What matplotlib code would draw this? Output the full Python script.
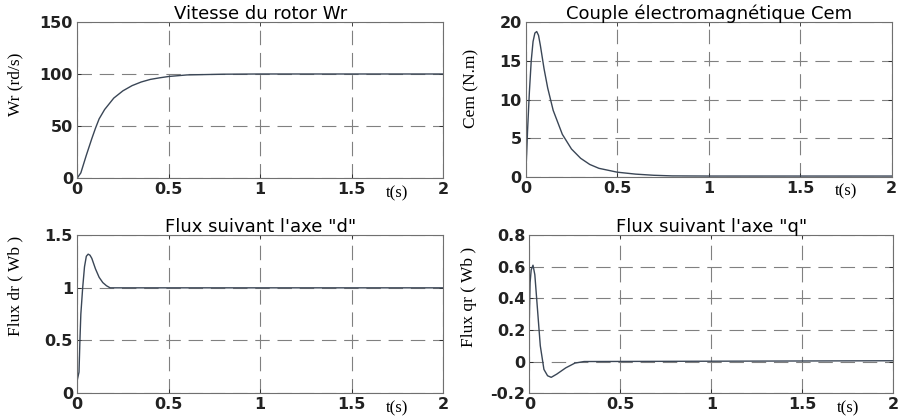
import matplotlib
matplotlib.use("Agg")
import matplotlib.pyplot as plt

# speed of rotor
t_wr = [0, 0.02, 0.05, 0.08, 0.1, 0.12, 0.15, 0.2, 0.25, 0.3, 0.35, 0.4, 0.45, 0.5, 0.6, 0.8, 1.0, 2.0]
wr = [0, 5, 22, 38, 48, 57, 66, 77, 84, 89, 92.5, 95, 96.5, 97.8, 99.3, 100, 100.2, 100.2]

# electromagnetic torque
t_cem = [0, 0.005, 0.01, 0.02, 0.03, 0.04, 0.05, 0.06, 0.07, 0.08, 0.1, 0.12, 0.15, 0.2, 0.25,
         0.3, 0.35, 0.4, 0.5, 0.6, 0.7, 0.8, 1.0, 2.0]
cem = [0, 3, 6, 11, 15, 17.5, 18.6, 18.8, 18.3, 17, 14, 11.5, 8.6, 5.5, 3.6,
       2.4, 1.6, 1.1, 0.6, 0.35, 0.2, 0.12, 0.1, 0.1]

# flux d
t_fd = [0, 0.01, 0.015, 0.02, 0.03, 0.04, 0.05, 0.06, 0.07, 0.08, 0.1, 0.12, 0.14, 0.16, 0.18, 2.0]
flux_d = [0.12, 0.2, 0.5, 0.75, 1.0, 1.2, 1.3, 1.32, 1.31, 1.28, 1.18, 1.1, 1.05, 1.02, 1.0, 1.0]

# flux q
t_fq = [0, 0.004, 0.01, 0.02, 0.03, 0.04, 0.05, 0.06, 0.08, 0.1, 0.12, 0.15, 0.2, 0.25, 0.3, 2.0]
flux_q = [0.28, 0.5, 0.58, 0.61, 0.55, 0.4, 0.25, 0.1, -0.05, -0.09, -0.1, -0.08, -0.04, -0.01, 0.0, 0.005]

x_ticks = [0, 0.5, 1, 1.5, 2]
x_labels = ["0", "0.5", "1", "1.5", "2"]

panels = [
    (t_wr, wr, "Vitesse du rotor Wr", "Wr (rd/s)", [0, 50, 100, 150], ["0", "50", "100", "150"],
     (0, 150), [0.085, 0.576, 0.403, 0.371], (-0.148, 0.6)),
    (t_cem, cem, "Couple électromagnétique Cem", "Cem (N.m)", [0, 5, 10, 15, 20], ["0", "5", "10", "15", "20"],
     (0, 20), [0.579, 0.579, 0.403, 0.368], (-0.128, 0.57)),
    (t_fd, flux_d, "Flux suivant l'axe \"d\"", "Flux dr ( Wb )", [0, 0.5, 1, 1.5], ["0", "0.5", "1", "1.5"],
     (0, 1.5), [0.085, 0.064, 0.403, 0.376], (-0.148, 0.68)),
    (t_fq, flux_q, "Flux suivant l'axe \"q\"", "Flux qr ( Wb )", [-0.2, 0, 0.2, 0.4, 0.6, 0.8],
     ["-0.2", "0", "0.2", "0.4", "0.6", "0.8"], (-0.2, 0.8), [0.583, 0.064, 0.401, 0.376], (-0.143, 0.61)),
]

fig = plt.figure(figsize=(9.08, 4.2), dpi=100)
line_color = "#3a4656"
sans = "DejaVu Sans"
serif = "Liberation Serif"

for t, y, title, ylabel, yticks, ylabels, ylim, rect, label_pos in panels:
    ax = fig.add_axes(rect)
    ax.plot(t, y, color=line_color, linewidth=1.0)
    ax.set_xlim(0, 2)
    ax.set_ylim(*ylim)
    ax.set_xticks(x_ticks)
    ax.set_xticklabels(x_labels, family=sans, fontsize=11.5, fontweight="bold")
    ax.set_yticks(yticks)
    ax.set_yticklabels(ylabels, family=sans, fontsize=11.5, fontweight="bold")
    ax.tick_params(direction="in", length=3, width=0.6, colors="#222222", pad=3,
                   top=True, right=True)
    ax.grid(True, color="#808080", linestyle=(0, (13, 7)), linewidth=0.8)
    for s in ax.spines.values():
        s.set_color("#707070")
        s.set_linewidth(0.8)
    ax.set_title(title, family=sans, fontsize=13, pad=2)
    ax.set_ylabel(ylabel, family=serif, fontsize=12.5)
    ax.yaxis.set_label_coords(*label_pos)
    ax.annotate("t(s)", xy=(1.75, 0), xycoords=("data", "axes fraction"),
                xytext=(0, -5), textcoords="offset points",
                family=serif, fontsize=12, ha="center", va="top")

fig.savefig("out.png", dpi=100, facecolor="white")
plt.close(fig)
